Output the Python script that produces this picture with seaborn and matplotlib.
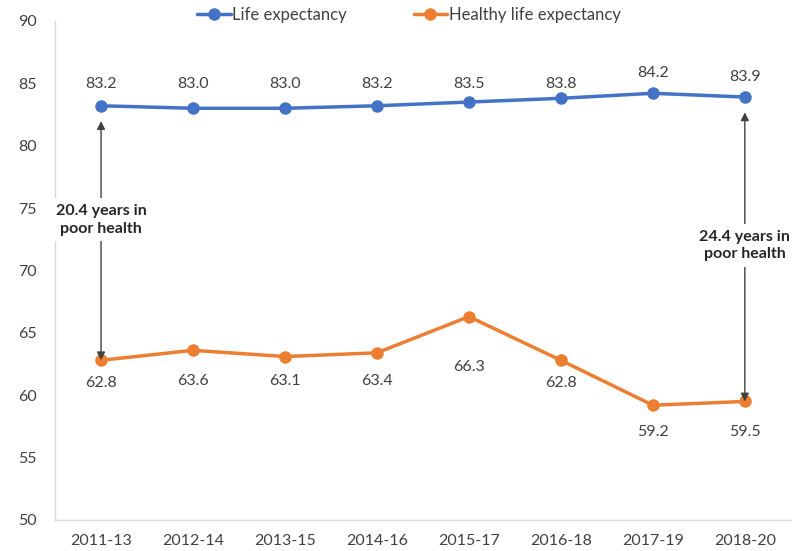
import pandas as pd
import seaborn as sns
import matplotlib.pyplot as plt

periods = ["2011-13", "2012-14", "2013-15", "2014-16", "2015-17", "2016-18", "2017-19", "2018-20"]
life_exp = [83.2, 83.0, 83.0, 83.2, 83.5, 83.8, 84.2, 83.9]
healthy_exp = [62.8, 63.6, 63.1, 63.4, 66.3, 62.8, 59.2, 59.5]
series_names = ["Life expectancy", "Healthy life expectancy"]
gap_labels = ["20.4 years in\npoor health", "24.4 years in\npoor health"]

# label positions (data y) as placed in the original
life_label_y = [84.95, 84.95, 84.95, 84.95, 84.95, 84.95, 85.8, 85.5]
healthy_label_y = [60.98, 61.14, 61.14, 61.14, 62.26, 60.98, 57.05, 57.05]

df = pd.DataFrame({
    "period": periods * 2,
    "value": life_exp + healthy_exp,
    "series": [series_names[0]] * len(periods) + [series_names[1]] * len(periods),
})

sns.set_style("white")
plt.rcParams["font.family"] = ["Lato", "DejaVu Sans"]

fig = plt.figure(figsize=(7.98, 5.51), dpi=100)
ax = fig.add_axes([0.069, 0.0563, 0.922, 0.9057])

palette = {series_names[0]: "#4472C4", series_names[1]: "#ED7D31"}
sns.lineplot(data=df, x="period", y="value", hue="series", palette=palette,
             marker="o", markersize=9, markeredgewidth=0, linewidth=2.5,
             sort=False, ax=ax)

ax.set_ylim(50, 90)
ax.set_xlim(-0.5, len(periods) - 0.5)
ax.set_yticks(range(50, 91, 5))
ax.set_xlabel("")
ax.set_ylabel("")
ax.tick_params(axis="both", colors="#404040", labelsize=11.5, length=0)
ax.tick_params(axis="y", pad=13)
ax.tick_params(axis="x", pad=10)
for side in ["top", "right"]:
    ax.spines[side].set_visible(False)
for side in ["left", "bottom"]:
    ax.spines[side].set_color("#D9D9D9")
    ax.spines[side].set_linewidth(1)

for i in range(len(periods)):
    ax.text(i, life_label_y[i], f"{life_exp[i]:.1f}", ha="center", va="center",
            fontsize=11.5, color="#404040")
    ax.text(i, healthy_label_y[i], f"{healthy_exp[i]:.1f}", ha="center", va="center",
            fontsize=11.5, color="#404040")

# arrows showing years in poor health
for idx, text_y, label in [(0, 74.05, gap_labels[0]), (len(periods) - 1, 72.0, gap_labels[1])]:
    ax.annotate("", xy=(idx, healthy_exp[idx]), xytext=(idx, life_exp[idx]),
                arrowprops=dict(arrowstyle="<|-|>", color="#404040", lw=1,
                                shrinkA=11, shrinkB=0, mutation_scale=12))
    ax.text(idx, text_y, label, ha="center", va="center", fontsize=11.5,
            fontweight="bold", color="#262626", linespacing=1.35,
            bbox=dict(facecolor="white", edgecolor="none", pad=4))

leg = ax.legend(loc="center", bbox_to_anchor=(0.481, 1.012), ncol=2, frameon=False,
                fontsize=12, columnspacing=4.0, handlelength=2.0, handletextpad=0.1)
for t in leg.get_texts():
    t.set_color("#404040")

fig.savefig("out.png", dpi=100)
